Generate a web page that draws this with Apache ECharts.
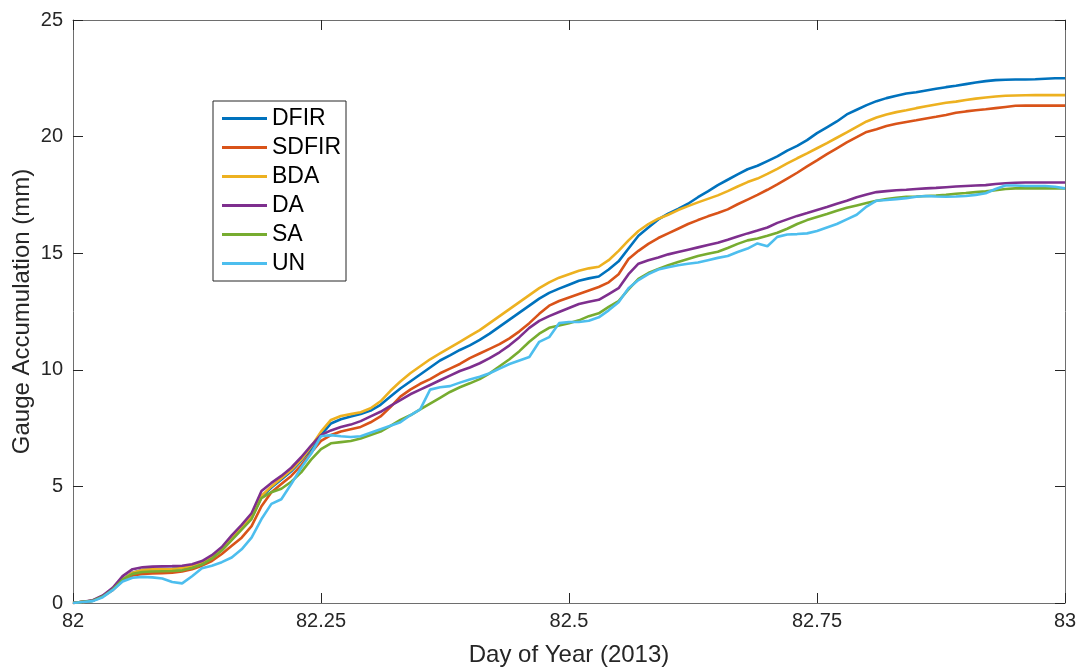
<!DOCTYPE html>
<html>
<head>
<meta charset="utf-8">
<script src="https://cdn.jsdelivr.net/npm/echarts@6/dist/echarts.min.js"></script>
<style>
  html, body { margin: 0; padding: 0; background: #fff; }
  #chart { width: 1082px; height: 667px; }
</style>
</head>
<body>
<div id="chart"></div>
<script>
// Day of year (2013), sampled every 0.01 day
const days = [
  82.00, 82.01, 82.02, 82.03, 82.04, 82.05, 82.06, 82.07, 82.08, 82.09,
  82.10, 82.11, 82.12, 82.13, 82.14, 82.15, 82.16, 82.17, 82.18, 82.19,
  82.20, 82.21, 82.22, 82.23, 82.24, 82.25, 82.26, 82.27, 82.28, 82.29,
  82.30, 82.31, 82.32, 82.33, 82.34, 82.35, 82.36, 82.37, 82.38, 82.39,
  82.40, 82.41, 82.42, 82.43, 82.44, 82.45, 82.46, 82.47, 82.48, 82.49,
  82.50, 82.51, 82.52, 82.53, 82.54, 82.55, 82.56, 82.57, 82.58, 82.59,
  82.60, 82.61, 82.62, 82.63, 82.64, 82.65, 82.66, 82.67, 82.68, 82.69,
  82.70, 82.71, 82.72, 82.73, 82.74, 82.75, 82.76, 82.77, 82.78, 82.79,
  82.80, 82.81, 82.82, 82.83, 82.84, 82.85, 82.86, 82.87, 82.88, 82.89,
  82.90, 82.91, 82.92, 82.93, 82.94, 82.95, 82.96, 82.97, 82.98, 82.99,
  83.00
];

const DFIR = [
  0, 0.05, 0.1, 0.3, 0.6, 1.0, 1.3, 1.42, 1.45, 1.46,
  1.47, 1.5, 1.58, 1.72, 1.95, 2.3, 2.75, 3.2, 3.65, 4.55,
  4.95, 5.3, 5.65, 6.1, 6.6, 7.2, 7.7, 7.88, 8.0, 8.1,
  8.25, 8.5, 8.85, 9.2, 9.5, 9.8, 10.1, 10.4, 10.62, 10.85,
  11.05, 11.28, 11.55, 11.85, 12.15, 12.45, 12.75, 13.05, 13.3, 13.48,
  13.65, 13.82, 13.92, 14.0, 14.3, 14.65, 15.2, 15.75, 16.1, 16.45,
  16.7, 16.9, 17.12, 17.4, 17.65, 17.92, 18.15, 18.38, 18.6, 18.75,
  18.95, 19.15, 19.4, 19.6, 19.85, 20.15, 20.4, 20.65, 20.95, 21.15,
  21.35, 21.52, 21.65, 21.75, 21.85, 21.9, 21.98, 22.05, 22.12, 22.18,
  22.25, 22.32, 22.38, 22.42, 22.44, 22.45, 22.45, 22.46, 22.48, 22.5,
  22.5
];

const SDFIR = [
  0, 0.05, 0.1, 0.28, 0.55, 0.95, 1.18, 1.25, 1.27, 1.28,
  1.3, 1.35, 1.45, 1.6, 1.8, 2.1, 2.45, 2.8, 3.3, 4.15,
  4.75, 5.1, 5.45, 5.9, 6.45, 6.95, 7.2, 7.35, 7.45, 7.55,
  7.75, 8.0, 8.4, 8.85, 9.15, 9.4, 9.6, 9.85, 10.05, 10.25,
  10.5, 10.7, 10.9, 11.1, 11.35, 11.65, 12.0, 12.4, 12.75, 12.95,
  13.1, 13.25, 13.4, 13.55, 13.75, 14.1, 14.75, 15.1, 15.4, 15.65,
  15.85, 16.05, 16.25, 16.42, 16.58, 16.72, 16.88, 17.1, 17.3, 17.5,
  17.72, 17.95, 18.2, 18.45, 18.72, 18.98, 19.25, 19.5, 19.75, 19.98,
  20.2, 20.32, 20.45, 20.55, 20.63, 20.7, 20.78, 20.85, 20.93, 21.02,
  21.08, 21.13, 21.17, 21.22, 21.27, 21.32, 21.33, 21.33, 21.33, 21.33,
  21.33
];

const BDA = [
  0, 0.05, 0.1, 0.3, 0.6, 1.0, 1.3, 1.42, 1.44, 1.45,
  1.46, 1.5, 1.6, 1.75, 2.0, 2.35, 2.8, 3.25, 3.7, 4.6,
  5.0, 5.35, 5.7, 6.15, 6.7, 7.35, 7.85, 8.02, 8.1, 8.18,
  8.35, 8.65, 9.1, 9.5, 9.85, 10.15, 10.45, 10.7, 10.95, 11.2,
  11.45, 11.7, 12.0, 12.3, 12.6, 12.9, 13.2, 13.5, 13.75, 13.95,
  14.1, 14.25, 14.35, 14.42, 14.7, 15.1, 15.55, 15.95, 16.25, 16.48,
  16.65, 16.85, 17.02, 17.18, 17.33, 17.48, 17.66, 17.86, 18.05, 18.2,
  18.4, 18.62, 18.85, 19.07, 19.28, 19.5, 19.72, 19.95, 20.18, 20.42,
  20.65, 20.82, 20.95, 21.05, 21.13, 21.22, 21.3, 21.38, 21.45, 21.5,
  21.57, 21.63, 21.68, 21.72, 21.75, 21.76, 21.77, 21.78, 21.78, 21.78,
  21.78
];

const DA = [
  0, 0.05, 0.12, 0.32, 0.65, 1.15, 1.45, 1.53, 1.56, 1.57,
  1.58, 1.6, 1.66, 1.8, 2.05, 2.4, 2.9, 3.35, 3.85, 4.8,
  5.15, 5.45, 5.8, 6.25, 6.75, 7.2, 7.4, 7.55, 7.65, 7.8,
  8.0, 8.2, 8.45, 8.7, 8.95, 9.15, 9.35, 9.55, 9.75, 9.95,
  10.1, 10.28, 10.5, 10.75, 11.05, 11.4, 11.8, 12.1, 12.3, 12.48,
  12.65, 12.82, 12.92, 13.0, 13.25, 13.5, 14.1, 14.55, 14.7, 14.82,
  14.95, 15.05, 15.15, 15.25, 15.35, 15.45, 15.58, 15.72, 15.85, 15.97,
  16.1, 16.3, 16.45, 16.6, 16.72, 16.85, 16.98, 17.12, 17.25, 17.4,
  17.52, 17.62, 17.66, 17.7, 17.72, 17.75, 17.78, 17.8, 17.83, 17.86,
  17.88, 17.9, 17.92, 17.97, 18.0, 18.02, 18.03, 18.03, 18.03, 18.03,
  18.03
];

const SA = [
  0, 0.05, 0.1, 0.28, 0.58, 1.0, 1.25, 1.33, 1.35, 1.36,
  1.37, 1.4, 1.5, 1.65, 1.9, 2.25, 2.7, 3.15, 3.6, 4.5,
  4.75, 4.9, 5.2, 5.6, 6.15, 6.6, 6.85, 6.9, 6.95, 7.05,
  7.2, 7.35, 7.6, 7.85, 8.05, 8.3, 8.55, 8.8, 9.05, 9.25,
  9.42, 9.6, 9.85, 10.15, 10.45, 10.8, 11.2, 11.55, 11.8, 11.9,
  12.0, 12.12, 12.3, 12.42, 12.7, 12.95, 13.45, 13.9, 14.15, 14.32,
  14.48, 14.62, 14.75, 14.88, 14.98, 15.06, 15.22, 15.4, 15.55, 15.63,
  15.75, 15.88, 16.05, 16.25, 16.42, 16.55, 16.68, 16.82, 16.95, 17.05,
  17.15, 17.25, 17.32, 17.38, 17.42, 17.43, 17.45, 17.47, 17.5, 17.55,
  17.58, 17.62, 17.65, 17.7, 17.75, 17.78, 17.78, 17.78, 17.78, 17.78,
  17.78
];

const UN = [
  0, 0.04, 0.08, 0.25, 0.55, 0.92, 1.08, 1.12, 1.1, 1.05,
  0.9, 0.84, 1.15, 1.49, 1.6, 1.75, 1.95, 2.3, 2.8, 3.6,
  4.25, 4.45, 5.1, 5.8, 6.4, 7.15, 7.2, 7.15, 7.12, 7.15,
  7.3, 7.45, 7.6, 7.75, 8.05, 8.3, 9.15, 9.25, 9.3, 9.45,
  9.58, 9.7, 9.85, 10.05, 10.25, 10.4, 10.55, 11.2, 11.4, 12.0,
  12.05, 12.05, 12.1, 12.25, 12.55, 12.9, 13.5, 13.85, 14.1, 14.3,
  14.4, 14.48, 14.55, 14.6, 14.7, 14.8, 14.88, 15.05, 15.2, 15.42,
  15.3, 15.7, 15.8, 15.82, 15.85, 15.95, 16.1, 16.25, 16.45, 16.65,
  17.0, 17.25, 17.28, 17.32, 17.36, 17.42, 17.45, 17.43, 17.42, 17.43,
  17.45, 17.5, 17.57, 17.75, 17.9, 17.9, 17.88, 17.88, 17.88, 17.85,
  17.78
];

const seriesNames = ['DFIR', 'SDFIR', 'BDA', 'DA', 'SA', 'UN'];
const seriesValues = [DFIR, SDFIR, BDA, DA, SA, UN];
const colors = ['#0072BD', '#D95319', '#EDB120', '#7E2F8E', '#77AC30', '#4DBEEE'];

const xTicks = { min: 82, max: 83, interval: 0.25 };
const yTicks = { min: 0, max: 25, interval: 5 };

const FONT = 'Liberation Sans, Arial, Helvetica, sans-serif';
const AX = '#262626';

const chart = echarts.init(document.getElementById('chart'), null, { renderer: 'canvas' });

function axisCommon(showLabels) {
  return {
    axisLine: { show: true, onZero: false, lineStyle: { color: '#6e6e6e', width: 1 } },
    axisTick: { show: true, inside: true, length: 10, lineStyle: { color: AX, width: 1 } },
    axisLabel: { show: showLabels, color: AX, fontSize: 20, fontFamily: FONT },
    splitLine: { show: false }
  };
}

const option = {
  animation: false,
  backgroundColor: '#ffffff',
  color: colors,
  grid: { left: 73, right: 17, top: 20, bottom: 64, containLabel: false, outerBoundsMode: 'none' },
  legend: {
    orient: 'vertical',
    left: 213,
    top: 101,
    icon: 'rect',
    itemWidth: 45,
    itemHeight: 3,
    itemGap: 6,
    padding: [6, 5, 6, 9],
    backgroundColor: '#ffffff',
    borderColor: '#262626',
    borderWidth: 1,
    borderRadius: 0,
    textStyle: { color: '#000', fontSize: 23, fontFamily: FONT },
    data: seriesNames
  },
  xAxis: [
    Object.assign({
      type: 'value', position: 'bottom',
      min: xTicks.min, max: xTicks.max, interval: xTicks.interval,
      name: 'Day of Year (2013)', nameLocation: 'middle', nameGap: 40, nameMoveOverlap: false,
      nameTextStyle: { color: AX, fontSize: 24, fontFamily: FONT }
    }, axisCommon(true), { axisLabel: { show: true, color: AX, fontSize: 20, fontFamily: FONT, margin: 8 } }),
    Object.assign({
      type: 'value', position: 'top',
      min: xTicks.min, max: xTicks.max, interval: xTicks.interval
    }, axisCommon(false))
  ],
  yAxis: [
    Object.assign({
      type: 'value', position: 'left',
      min: yTicks.min, max: yTicks.max, interval: yTicks.interval,
      name: 'Gauge Accumulation (mm)', nameLocation: 'middle', nameGap: 39, nameRotate: 90,
      nameMoveOverlap: false,
      nameTextStyle: { color: AX, fontSize: 24, fontFamily: FONT }
    }, axisCommon(true), { axisLabel: { show: true, color: AX, fontSize: 20, fontFamily: FONT, margin: 10 } }),
    Object.assign({
      type: 'value', position: 'right',
      min: yTicks.min, max: yTicks.max, interval: yTicks.interval
    }, axisCommon(false))
  ],
  series: seriesNames.map((name, i) => ({
    name: name,
    type: 'line',
    xAxisIndex: 0,
    yAxisIndex: 0,
    showSymbol: false,
    symbol: 'none',
    smooth: false,
    lineStyle: { width: 2.6, color: colors[i] },
    itemStyle: { color: colors[i] },
    data: days.map((d, j) => [d, seriesValues[i][j]])
  }))
};

chart.setOption(option);
</script>
</body>
</html>
